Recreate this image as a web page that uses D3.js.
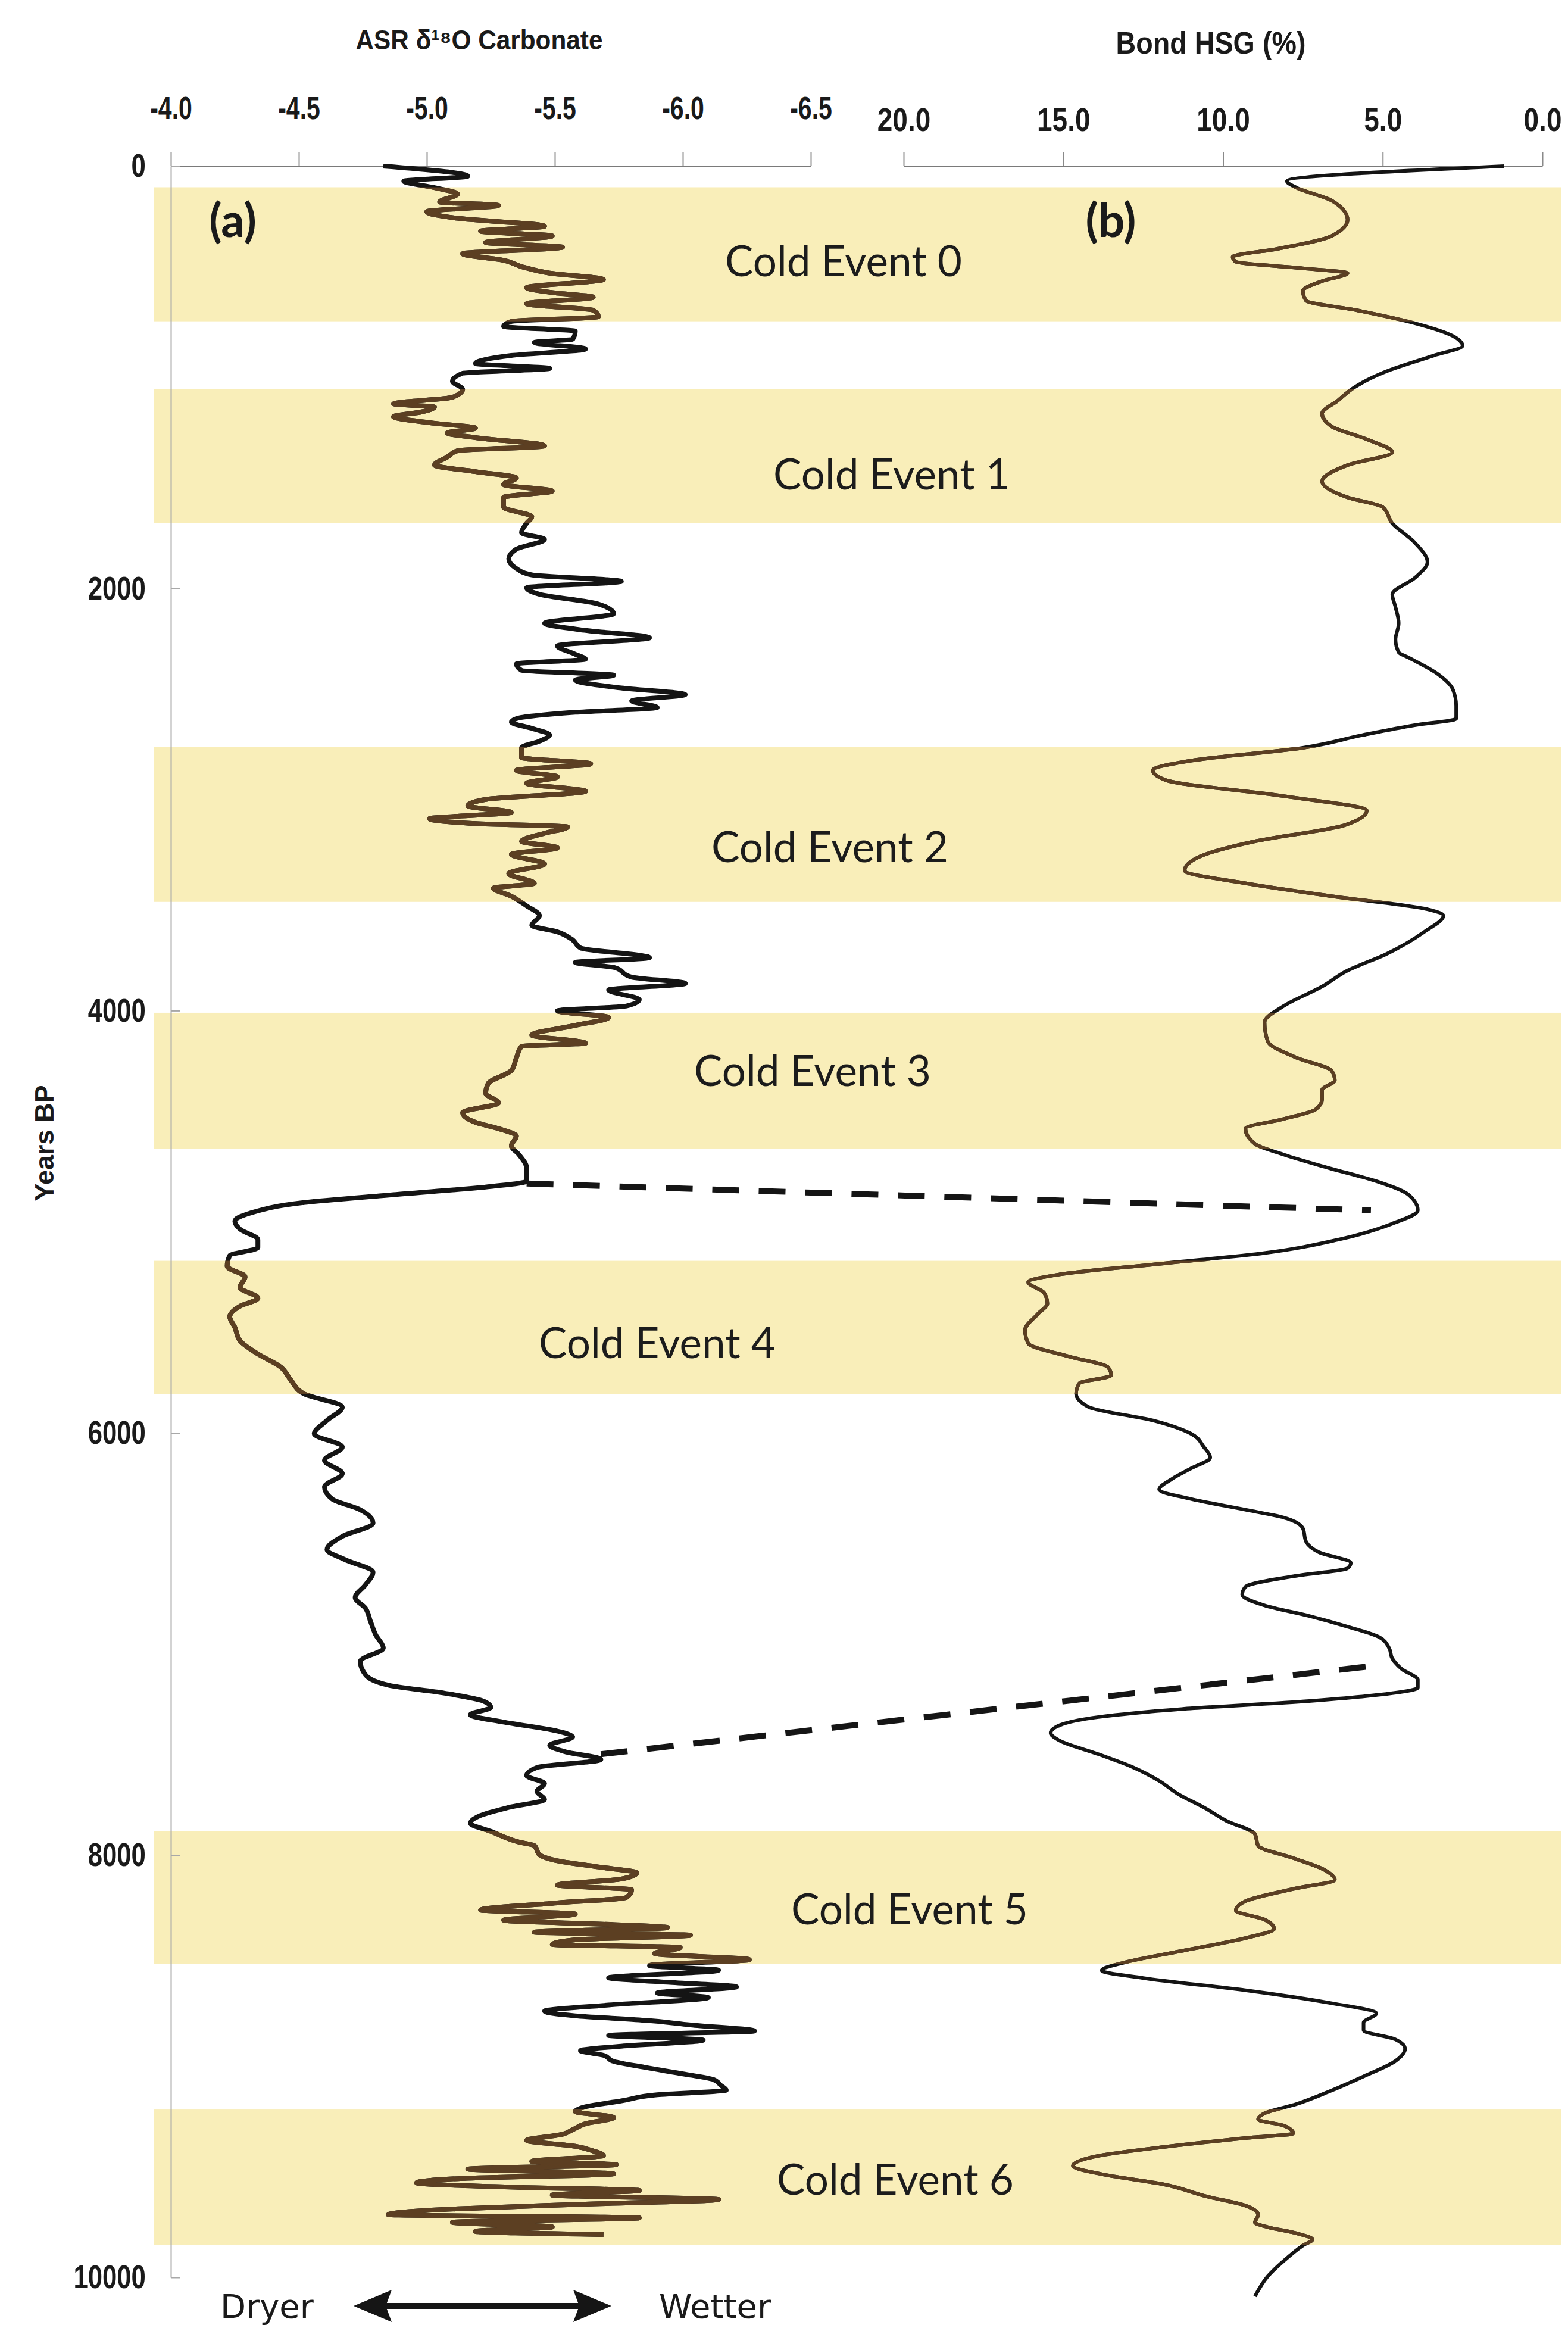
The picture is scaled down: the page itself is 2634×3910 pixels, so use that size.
<!DOCTYPE html>
<html>
<head>
<meta charset="utf-8">
<script src="https://cdn.jsdelivr.net/npm/d3@7"></script>
<style>
body { margin: 0; background: #fff; }
</style>
</head>
<body>
<div id="main"></div>
<script>
// values: [years BP, value]
var asrPoints = [[0,-4.83],[48,-5.16],[71,-4.91],[102,-5.03],[132,-5.12],[170,-5.05],[186,-5.28],[216,-5.00],[247,-5.12],[285,-5.46],[308,-5.21],[331,-5.49],[362,-5.23],[384,-5.53],[415,-5.14],[446,-5.30],[476,-5.37],[507,-5.48],[537,-5.69],[576,-5.39],[599,-5.49],[621,-5.65],[652,-5.39],[683,-5.65],[713,-5.67],[736,-5.33],[759,-5.30],[782,-5.58],[820,-5.57],[835,-5.42],[866,-5.62],[897,-5.33],[935,-5.19],[958,-5.48],[981,-5.14],[1019,-5.10],[1057,-5.14],[1095,-5.10],[1126,-4.87],[1141,-5.03],[1164,-4.98],[1187,-4.87],[1218,-5.03],[1241,-5.19],[1264,-5.08],[1286,-5.19],[1325,-5.46],[1348,-5.12],[1378,-5.08],[1416,-5.03],[1447,-5.19],[1477,-5.35],[1508,-5.30],[1539,-5.49],[1569,-5.30],[1615,-5.30],[1661,-5.41],[1691,-5.39],[1737,-5.37],[1768,-5.46],[1814,-5.35],[1860,-5.32],[1906,-5.35],[1936,-5.41],[1967,-5.76],[1997,-5.39],[2028,-5.44],[2074,-5.67],[2120,-5.73],[2165,-5.46],[2196,-5.60],[2234,-5.87],[2272,-5.51],[2312,-5.58],[2335,-5.62],[2358,-5.35],[2388,-5.37],[2411,-5.73],[2434,-5.58],[2472,-5.76],[2503,-6.01],[2533,-5.80],[2564,-5.90],[2587,-5.58],[2617,-5.35],[2633,-5.33],[2663,-5.41],[2694,-5.48],[2724,-5.44],[2755,-5.37],[2801,-5.37],[2831,-5.64],[2862,-5.35],[2893,-5.51],[2923,-5.39],[2961,-5.62],[3000,-5.23],[3030,-5.16],[3061,-5.33],[3091,-5.01],[3114,-5.19],[3130,-5.55],[3160,-5.46],[3198,-5.37],[3229,-5.51],[3260,-5.33],[3305,-5.46],[3351,-5.32],[3397,-5.42],[3420,-5.26],[3458,-5.33],[3504,-5.39],[3550,-5.44],[3596,-5.41],[3627,-5.51],[3665,-5.57],[3703,-5.60],[3749,-5.87],[3772,-5.58],[3795,-5.73],[3841,-5.80],[3871,-6.01],[3902,-5.71],[3948,-5.83],[3978,-5.78],[4001,-5.51],[4032,-5.71],[4070,-5.58],[4116,-5.41],[4154,-5.62],[4169,-5.37],[4223,-5.35],[4284,-5.33],[4345,-5.24],[4391,-5.23],[4437,-5.28],[4483,-5.14],[4529,-5.19],[4559,-5.28],[4594,-5.35],[4640,-5.33],[4682,-5.36],[4745,-5.39],[4808,-5.39],[4833,-5.25],[4871,-4.88],[4909,-4.52],[4959,-4.31],[4997,-4.25],[5035,-4.27],[5085,-4.34],[5123,-4.34],[5160,-4.23],[5211,-4.22],[5261,-4.29],[5311,-4.27],[5362,-4.34],[5400,-4.27],[5450,-4.23],[5500,-4.25],[5563,-4.27],[5626,-4.34],[5689,-4.43],[5752,-4.47],[5815,-4.52],[5878,-4.67],[5941,-4.61],[6004,-4.56],[6067,-4.67],[6130,-4.60],[6193,-4.67],[6256,-4.60],[6313,-4.63],[6364,-4.74],[6427,-4.79],[6490,-4.67],[6553,-4.61],[6600,-4.68],[6660,-4.79],[6720,-4.76],[6780,-4.72],[6830,-4.76],[6893,-4.78],[6956,-4.80],[7019,-4.83],[7082,-4.74],[7145,-4.76],[7195,-4.85],[7233,-5.07],[7270,-5.22],[7300,-5.25],[7335,-5.17],[7370,-5.30],[7410,-5.50],[7440,-5.57],[7480,-5.48],[7510,-5.54],[7547,-5.68],[7585,-5.43],[7623,-5.39],[7661,-5.46],[7698,-5.43],[7736,-5.46],[7774,-5.32],[7812,-5.21],[7849,-5.17],[7887,-5.25],[7938,-5.36],[7955,-5.42],[7998,-5.44],[8027,-5.51],[8056,-5.67],[8084,-5.82],[8113,-5.76],[8142,-5.51],[8164,-5.80],[8200,-5.78],[8228,-5.49],[8260,-5.21],[8279,-5.58],[8308,-5.30],[8329,-5.73],[8343,-5.94],[8365,-5.42],[8379,-6.03],[8401,-5.58],[8423,-5.49],[8437,-5.99],[8466,-5.89],[8495,-6.26],[8523,-5.87],[8545,-6.14],[8581,-5.71],[8602,-5.94],[8624,-6.21],[8653,-5.90],[8674,-6.10],[8710,-5.71],[8739,-5.46],[8761,-5.58],[8782,-5.85],[8804,-6.03],[8833,-6.28],[8854,-5.71],[8876,-6.08],[8905,-5.76],[8926,-5.60],[8948,-5.69],[8977,-5.73],[9005,-5.85],[9034,-5.99],[9063,-6.12],[9092,-6.15],[9113,-6.17],[9135,-5.90],[9164,-5.76],[9192,-5.62],[9214,-5.58],[9243,-5.73],[9272,-5.62],[9300,-5.57],[9322,-5.53],[9351,-5.39],[9379,-5.58],[9401,-5.65],[9423,-5.69],[9451,-5.41],[9466,-5.74],[9487,-5.16],[9509,-5.73],[9531,-5.14],[9552,-4.96],[9574,-5.37],[9588,-5.83],[9610,-5.49],[9631,-6.14],[9653,-5.62],[9674,-5.14],[9703,-4.85],[9718,-5.83],[9739,-5.10],[9761,-5.49],[9782,-5.19],[9797,-5.69]];

var bondPoints = [[0,1.2],[71,8.0],[102,7.7],[163,6.6],[254,6.1],[331,6.6],[392,8.3],[430,9.7],[453,9.6],[484,7.5],[507,6.1],[545,6.9],[591,7.5],[637,7.4],[683,5.8],[744,4.0],[805,2.8],[851,2.5],[897,3.4],[973,4.9],[1049,5.9],[1110,6.4],[1172,6.9],[1233,6.6],[1294,5.5],[1355,4.7],[1416,6.1],[1493,6.9],[1569,6.1],[1615,5.0],[1692,4.7],[1783,4.0],[1875,3.6],[1951,4.0],[2028,4.7],[2089,4.6],[2165,4.5],[2242,4.6],[2303,4.5],[2327,4.2],[2403,3.3],[2480,2.8],[2556,2.7],[2617,2.7],[2648,4.0],[2694,5.6],[2755,7.5],[2816,11.0],[2862,12.2],[2908,11.8],[2984,8.1],[3053,5.5],[3122,6.2],[3198,9.0],[3275,10.8],[3336,11.2],[3397,9.3],[3458,6.6],[3520,3.6],[3550,3.1],[3627,3.7],[3733,4.9],[3810,6.1],[3886,6.9],[3978,8.1],[4055,8.7],[4146,8.6],[4223,7.7],[4284,6.6],[4330,6.5],[4376,6.9],[4422,6.9],[4468,7.1],[4513,8.1],[4559,9.3],[4631,9.0],[4682,8.1],[4745,6.7],[4808,5.2],[4871,4.2],[4946,3.9],[5009,4.7],[5085,6.4],[5148,8.7],[5198,11.9],[5249,15.1],[5286,16.1],[5337,15.6],[5387,15.5],[5437,15.8],[5513,16.2],[5576,16.1],[5639,14.8],[5689,13.6],[5727,13.5],[5765,14.5],[5815,14.6],[5878,14.2],[5941,12.2],[6004,11.0],[6067,10.6],[6117,10.4],[6168,11.0],[6218,11.6],[6268,12.0],[6313,11.0],[6364,9.3],[6401,8.1],[6452,7.5],[6515,7.4],[6565,7.0],[6616,6.0],[6641,6.1],[6679,7.8],[6729,9.3],[6767,9.4],[6817,8.7],[6867,7.3],[6918,6.1],[6968,5.1],[7019,4.8],[7069,4.7],[7119,4.4],[7170,3.9],[7207,3.9],[7233,4.7],[7270,7.3],[7308,11.3],[7346,13.9],[7384,15.1],[7421,15.4],[7459,15.1],[7522,13.9],[7585,12.8],[7648,12.0],[7711,11.4],[7774,10.6],[7837,9.9],[7900,9.0],[7956,8.9],[8014,7.8],[8072,6.8],[8116,6.5],[8160,7.8],[8218,9.3],[8262,9.6],[8305,8.7],[8349,8.4],[8393,9.3],[8451,11.2],[8509,13.1],[8546,13.8],[8582,12.5],[8640,9.3],[8699,6.7],[8750,5.2],[8793,5.6],[8830,5.6],[8873,4.6],[8917,4.3],[8975,4.6],[9048,5.6],[9121,6.7],[9179,7.7],[9223,8.7],[9252,8.9],[9281,8.1],[9318,7.8],[9340,9.3],[9383,11.9],[9427,14.0],[9471,14.7],[9514,13.7],[9558,11.9],[9617,10.5],[9660,9.3],[9704,8.9],[9740,9.0],[9762,8.6],[9791,7.7],[9820,7.2],[9849,7.5],[9922,8.1],[9995,8.6],[10090,9.0]];

var eventNames = ["Cold Event 0","Cold Event 1","Cold Event 2","Cold Event 3","Cold Event 4","Cold Event 5","Cold Event 6"];
var eventStart = [100, 1055, 2750, 4010, 5185, 7885, 9205];
var eventEnd   = [735, 1690, 3485, 4655, 5815, 8515, 9845];

var asrTicks = [-4.0, -4.5, -5.0, -5.5, -6.0, -6.5];
var bondTicks = [20, 15, 10, 5, 0];
var yearTicks = [0, 2000, 4000, 6000, 8000, 10000];

// dashed tie lines: from (year, d18O) on (a) to (year, HSG %) on (b)
var tieFrom = [[4819, -5.39], [7522, -5.68]];
var tieTo   = [[4946, 5.37], [7100, 5.08]];

// layout
var W = 2634, H = 3910;
var labelX = [1417, 1498, 1394, 1365, 1104, 1528, 1504];
var labelYear = [522, 1531, 3297, 4357, 5646, 8328, 9608];
var bandLeft = 258, bandRight = 2622;
var labelFont = "Lato, 'Liberation Sans', sans-serif";
var tickFont = "'Liberation Sans', Arial, sans-serif";

var svg = d3.select("#main").append("svg")
	.attr("width", W)
	.attr("height", H)
	.style("display", "block");

svg.append("rect").attr("width", W).attr("height", H).attr("fill", "#fff");

var y = d3.scaleLinear().domain([0, 10000]).range([279, 3825]);
var xA = d3.scaleLinear().domain([-4.0, -6.5]).range([287, 1362]);
var xB = d3.scaleLinear().domain([20, 0]).range([1518, 2591]);

var events = eventNames.map((n, i) => ({name: n, start: eventStart[i], end: eventEnd[i], x: labelX[i], ly: labelYear[i]}));

//bands
svg.append("g")
	.selectAll("rect")
	.data(events)
	.join("rect")
		.attr("x", bandLeft)
		.attr("width", bandRight - bandLeft)
		.attr("y", d => y(d.start))
		.attr("height", d => y(d.end) - y(d.start))
		.attr("fill", "#f9eeb9");

svg.append("defs").append("clipPath").attr("id", "bandclip")
	.selectAll("rect")
	.data(events)
	.join("rect")
		.attr("x", bandLeft)
		.attr("width", bandRight - bandLeft)
		.attr("y", d => y(d.start))
		.attr("height", d => y(d.end) - y(d.start));

//axes
var axA = svg.append("g")
	.attr("transform", "translate(0,279)")
	.call(d3.axisTop(xA).tickValues(asrTicks).tickFormat(d => d.toFixed(1))
		.tickSizeInner(23).tickSizeOuter(0).tickPadding(56));

var axB = svg.append("g")
	.attr("transform", "translate(0,279)")
	.call(d3.axisTop(xB).tickValues(bondTicks).tickFormat(d => d.toFixed(1))
		.tickSizeInner(23).tickSizeOuter(0).tickPadding(36));

var axY = svg.append("g")
	.attr("transform", "translate(287,0)")
	.call(d3.axisLeft(y).tickValues(yearTicks).tickFormat(d3.format("d"))
		.tickSizeInner(-15).tickSizeOuter(0).tickPadding(54));

[axA, axB].forEach(function(ax){
	ax.select(".domain").attr("stroke", "#7a7a7a").attr("stroke-width", 3);
	ax.selectAll(".tick line").attr("stroke", "#8a8a8a").attr("stroke-width", 2);
});
axY.select(".domain").attr("stroke", "#a8a8a8").attr("stroke-width", 2);
axY.selectAll(".tick line").attr("stroke", "#a8a8a8").attr("stroke-width", 2);

axA.selectAll(".tick text")
	.attr("font-family", tickFont).attr("font-weight", "bold").attr("font-size", 54)
	.attr("fill", "#1a1a1a").attr("transform", "scale(0.76,1)");
axB.selectAll(".tick text")
	.attr("font-family", tickFont).attr("font-weight", "bold").attr("font-size", 56)
	.attr("fill", "#1a1a1a").attr("transform", "scale(0.82,1)");
axY.selectAll(".tick text")
	.attr("font-family", tickFont).attr("font-weight", "bold").attr("font-size", 56)
	.attr("fill", "#1a1a1a").attr("transform", "scale(0.78,1)");

//curves
var lineA = d3.line().x(d => xA(d[1])).y(d => y(d[0])).curve(d3.curveMonotoneY);
var lineB = d3.line().x(d => xB(d[1])).y(d => y(d[0])).curve(d3.curveMonotoneY);

function drawCurves(g, color) {
	g.append("path")
		.attr("d", lineA(asrPoints))
		.attr("fill", "none")
		.attr("stroke", color)
		.attr("stroke-width", 8)
		.attr("stroke-linejoin", "round");
	g.append("path")
		.attr("d", lineB(bondPoints))
		.attr("fill", "none")
		.attr("stroke", color)
		.attr("stroke-width", 6)
		.attr("stroke-linejoin", "round");
}
drawCurves(svg.append("g"), "#141414");
// the curves look brown where they cross the yellow bands
drawCurves(svg.append("g").attr("clip-path", "url(#bandclip)"), "#5c3f22");

//tie lines
svg.append("g")
	.selectAll("line")
	.data(tieFrom.map((a, i) => ({a: a, b: tieTo[i]})))
	.join("line")
		.attr("x1", d => xA(d.a[1]))
		.attr("y1", d => y(d.a[0]))
		.attr("x2", d => xB(d.b[1]))
		.attr("y2", d => y(d.b[0]))
		.attr("stroke", "#151515")
		.attr("stroke-width", 10)
		.attr("stroke-dasharray", "45,33");

//event labels
svg.append("g")
	.selectAll("text")
	.data(events)
	.join("text")
		.attr("x", d => d.x)
		.attr("y", d => y(d.ly))
		.attr("text-anchor", "middle")
		.attr("font-family", labelFont)
		.attr("font-size", 71)
		.attr("fill", "#1c1c1c")
		.text(d => d.name);

//panel letters
svg.append("g")
	.selectAll("text")
	.data([["(a)", 391], ["(b)", 1866]])
	.join("text")
		.attr("x", d => d[1])
		.attr("y", 398)
		.attr("text-anchor", "middle")
		.attr("font-family", labelFont)
		.attr("font-weight", "bold")
		.attr("font-size", 78)
		.attr("fill", "#1a1a1a")
		.text(d => d[0]);

//titles
svg.append("text")
	.attr("x", 805).attr("y", 83)
	.attr("text-anchor", "middle")
	.attr("font-family", tickFont)
	.attr("font-weight", "bold")
	.attr("font-size", 46)
	.attr("fill", "#1a1a1a")
	.attr("textLength", 415)
	.attr("lengthAdjust", "spacingAndGlyphs")
	.text("ASR δ¹⁸O Carbonate");

svg.append("text")
	.attr("x", 2034).attr("y", 90)
	.attr("text-anchor", "middle")
	.attr("font-family", tickFont)
	.attr("font-weight", "bold")
	.attr("font-size", 52)
	.attr("fill", "#1a1a1a")
	.attr("textLength", 319)
	.attr("lengthAdjust", "spacingAndGlyphs")
	.text("Bond HSG (%)");

svg.append("text")
	.attr("transform", "translate(90,1920) rotate(-90)")
	.attr("text-anchor", "middle")
	.attr("font-family", tickFont)
	.attr("font-weight", "bold")
	.attr("font-size", 44)
	.attr("fill", "#1a1a1a")
	.attr("textLength", 195)
	.attr("lengthAdjust", "spacingAndGlyphs")
	.text("Years BP");

//dryer / wetter arrow
var arrowY = 3873;
svg.append("text").attr("x", 370).attr("y", 3893)
	.attr("font-family", "'DejaVu Sans', sans-serif").attr("font-size", 56).attr("fill", "#1a1a1a")
	.text("Dryer");
svg.append("text").attr("x", 1107).attr("y", 3893)
	.attr("font-family", "'DejaVu Sans', sans-serif").attr("font-size", 56).attr("fill", "#1a1a1a")
	.text("Wetter");
svg.append("line")
	.attr("x1", 640).attr("x2", 982).attr("y1", arrowY).attr("y2", arrowY)
	.attr("stroke", "#151515").attr("stroke-width", 10);
svg.append("path")
	.attr("d", `M594,${arrowY} L658,${arrowY - 27} L648,${arrowY} L658,${arrowY + 27} Z`)
	.attr("fill", "#151515");
svg.append("path")
	.attr("d", `M1027,${arrowY} L963,${arrowY - 27} L973,${arrowY} L963,${arrowY + 27} Z`)
	.attr("fill", "#151515");
</script>
</body>
</html>
